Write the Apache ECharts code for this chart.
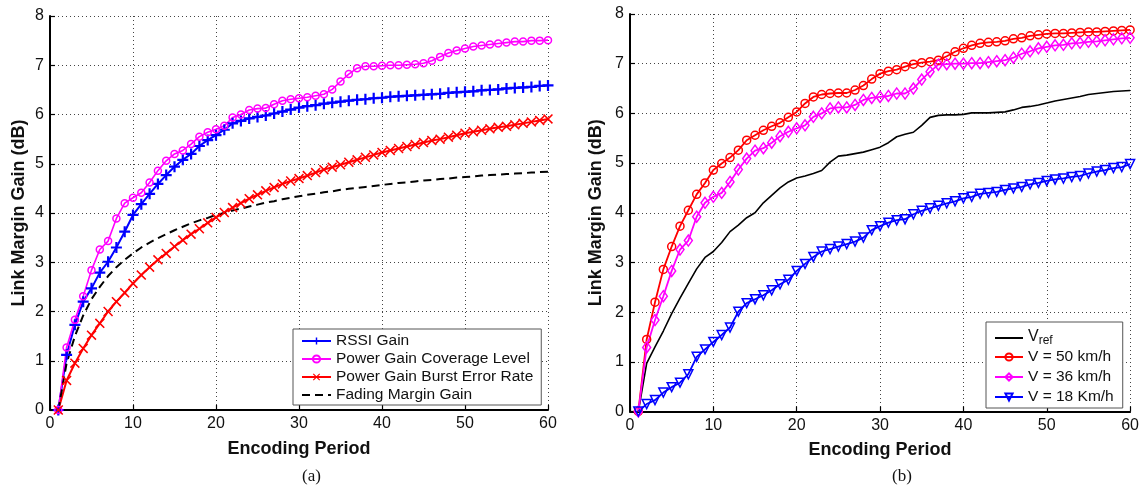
<!DOCTYPE html>
<html><head><meta charset="utf-8">
<script src="https://cdn.jsdelivr.net/npm/echarts@6/dist/echarts.min.js"></script>
<style>html,body{margin:0;padding:0;background:#fff}#c{width:1142px;height:490px}</style>
</head><body><div id="c"></div>
<script>
const periods = [1,2,3,4,5,6,7,8,9,10,11,12,13,14,15,16,17,18,19,20,21,22,23,24,25,26,27,28,29,30,
  31,32,33,34,35,36,37,38,39,40,41,42,43,44,45,46,47,48,49,50,51,52,53,54,55,56,57,58,59,60];
const xTicks = [0,10,20,30,40,50,60];
const yTicks = [0,1,2,3,4,5,6,7,8];

// (a)
const rssiGain = [0,1.12,1.73,2.2,2.47,2.79,3.01,3.3,3.62,3.96,4.18,4.39,4.59,4.77,4.94,5.08,5.2,5.36,5.48,5.58,
  5.69,5.82,5.87,5.92,5.95,5.98,6.02,6.06,6.1,6.14,6.17,6.19,6.22,6.24,6.26,6.28,6.3,6.31,6.33,6.34,
  6.36,6.37,6.38,6.39,6.4,6.41,6.42,6.44,6.45,6.46,6.47,6.49,6.5,6.51,6.53,6.54,6.55,6.56,6.58,6.59];
const coverageGain = [0,1.27,1.83,2.31,2.84,3.26,3.43,3.89,4.2,4.31,4.41,4.62,4.86,5.06,5.2,5.27,5.4,5.55,5.64,5.7,
  5.77,5.94,6.0,6.09,6.12,6.13,6.21,6.28,6.31,6.33,6.35,6.38,6.41,6.51,6.67,6.82,6.94,6.98,6.98,6.99,
  7.0,7.0,7.01,7.02,7.04,7.09,7.17,7.25,7.3,7.34,7.38,7.4,7.42,7.44,7.46,7.48,7.48,7.5,7.5,7.51];
const burstGain = [0,0.6,0.95,1.25,1.52,1.76,2.0,2.2,2.38,2.57,2.74,2.9,3.05,3.18,3.32,3.45,3.57,3.68,3.8,3.91,
  4.01,4.11,4.2,4.29,4.37,4.45,4.52,4.59,4.65,4.7,4.76,4.82,4.88,4.93,4.98,5.03,5.08,5.13,5.18,5.23,
  5.27,5.31,5.35,5.39,5.43,5.47,5.5,5.54,5.58,5.62,5.65,5.68,5.71,5.74,5.76,5.79,5.82,5.85,5.88,5.91];
const fadingGain = [0,0.95,1.5,1.92,2.25,2.5,2.72,2.9,3.05,3.18,3.3,3.4,3.49,3.57,3.65,3.72,3.79,3.85,3.9,3.96,
  4.0,4.05,4.09,4.13,4.17,4.21,4.24,4.28,4.31,4.34,4.37,4.39,4.42,4.44,4.47,4.49,4.51,4.53,4.55,4.57,
  4.59,4.61,4.62,4.64,4.66,4.67,4.69,4.7,4.72,4.73,4.74,4.76,4.77,4.78,4.79,4.8,4.81,4.82,4.83,4.84];

// (b)
const vRef = [0,0.97,1.3,1.62,1.97,2.28,2.58,2.87,3.1,3.22,3.4,3.62,3.75,3.9,4.0,4.2,4.35,4.5,4.62,4.7,
  4.74,4.79,4.85,5.02,5.14,5.16,5.19,5.22,5.27,5.32,5.41,5.53,5.58,5.62,5.76,5.92,5.96,5.97,5.97,5.98,
  6.01,6.01,6.01,6.02,6.03,6.07,6.12,6.14,6.17,6.21,6.25,6.28,6.31,6.34,6.38,6.4,6.42,6.44,6.45,6.46];
const v50 = [0,1.45,2.2,2.86,3.32,3.73,4.05,4.37,4.6,4.86,4.99,5.11,5.26,5.46,5.56,5.66,5.74,5.81,5.92,6.03,
  6.2,6.33,6.38,6.4,6.41,6.41,6.47,6.56,6.69,6.8,6.85,6.88,6.94,6.99,7.02,7.04,7.07,7.15,7.24,7.31,
  7.37,7.41,7.43,7.44,7.46,7.5,7.52,7.56,7.58,7.6,7.61,7.61,7.62,7.63,7.64,7.64,7.65,7.66,7.67,7.68];
const v36 = [0,1.29,1.84,2.32,2.83,3.26,3.44,3.92,4.2,4.32,4.4,4.62,4.87,5.09,5.25,5.3,5.41,5.54,5.63,5.7,
  5.76,5.93,6.0,6.1,6.12,6.12,6.17,6.27,6.31,6.33,6.35,6.4,6.4,6.5,6.68,6.84,6.98,6.99,7.0,7.0,
  7.01,7.01,7.03,7.05,7.07,7.12,7.2,7.25,7.31,7.34,7.37,7.38,7.41,7.42,7.44,7.45,7.47,7.49,7.51,7.52];
const v18 = [0,0.15,0.23,0.38,0.49,0.58,0.75,1.1,1.25,1.4,1.54,1.69,2.01,2.18,2.26,2.34,2.44,2.56,2.65,2.83,
  2.97,3.11,3.22,3.27,3.32,3.37,3.42,3.5,3.65,3.73,3.8,3.85,3.87,3.97,4.04,4.09,4.14,4.19,4.23,4.29,
  4.32,4.38,4.4,4.42,4.46,4.49,4.52,4.57,4.6,4.64,4.67,4.69,4.72,4.74,4.79,4.83,4.86,4.9,4.92,4.98];

const namesA = ['RSSI Gain','Power Gain Coverage Level','Power Gain Burst Error Rate','Fading Margin Gain'];
const namesB = ['Vref','V = 50 km/h','V = 36 km/h','V = 18 Km/h'];
const captions = ['(a)','(b)'];
const xName = 'Encoding Period';
const yName = 'Link Margin Gain (dB)';

const pair = arr => periods.map((p,i)=>[p,arr[i]]);
const FONT = '"Liberation Sans", Arial, Helvetica, sans-serif';
const SERIF = '"Liberation Serif", "Times New Roman", serif';
const PLUS = 'path://M4,0h2v4h4v2h-4v4h-2v-4h-4v-2h4z';
const CROSS = 'path://M0,1.1L1.1,0L5,3.9L8.9,0L10,1.1L6.1,5L10,8.9L8.9,10L5,6.1L1.1,10L0,8.9L3.9,5Z';
const TRI_DOWN = 'path://M0,0L10,0L5,9Z';
const CLEAR = 'rgba(255,255,255,0)';

function xAxis(gi){
  return {gridIndex:gi,type:'value',min:xTicks[0],max:xTicks[xTicks.length-1],interval:10,
    name:xName,nameLocation:'middle',nameGap:30,
    nameTextStyle:{fontFamily:FONT,fontWeight:'bold',fontSize:18,color:'#111'},
    axisLine:{lineStyle:{color:'#000',width:2}},
    axisTick:{inside:true,length:5,lineStyle:{color:'#000',width:1.2}},
    axisLabel:{fontFamily:FONT,fontSize:16,color:'#111',margin:6},
    splitLine:{show:true,lineStyle:{color:'#444',width:1,type:[1,3]}}};
}
function yAxis(gi,gap){
  return {gridIndex:gi,type:'value',min:yTicks[0],max:yTicks[yTicks.length-1],interval:1,
    name:yName,nameLocation:'middle',nameGap:gap,
    nameTextStyle:{fontFamily:FONT,fontWeight:'bold',fontSize:18,color:'#111'},
    axisLine:{lineStyle:{color:'#000',width:2}},
    axisTick:{inside:true,length:5,lineStyle:{color:'#000',width:1.2}},
    axisLabel:{fontFamily:FONT,fontSize:16,color:'#111',margin:6},
    splitLine:{show:true,lineStyle:{color:'#444',width:1,type:[1,3]}}};
}
function mk(name,gi,data,color,symbol,size,opts){
  opts = opts||{};
  return {name:name,type:'line',xAxisIndex:gi,yAxisIndex:gi,data:pair(data),
    symbol:symbol,symbolSize:size,showSymbol:symbol!=='none',animation:false,
    lineStyle:{color:color,width:opts.lw||1.8,type:opts.dash||'solid'},
    itemStyle:opts.hollow?{color:CLEAR,borderColor:color,borderWidth:1.5}:{color:color,borderColor:color,borderWidth:0},
    emphasis:{disabled:true}};
}
const noMarker = n => ({name:n,itemStyle:{opacity:0}});

const option = {
  backgroundColor:'#fff',
  animation:false,
  title:[
    {text:captions[0],left:297,top:463,textStyle:{fontFamily:SERIF,fontWeight:'normal',fontSize:17,color:'#111'}},
    {text:captions[1],left:887,top:463,textStyle:{fontFamily:SERIF,fontWeight:'normal',fontSize:17,color:'#111'}}
  ],
  grid:[
    {left:50,top:16,width:498,height:394},
    {left:630,top:14,width:502,height:397.5}
  ],
  xAxis:[xAxis(0),xAxis(1)],
  yAxis:[yAxis(0,22),yAxis(1,25)],
  legend:[
    {data:[namesA[0],namesA[1],namesA[2],noMarker(namesA[3])],orient:'vertical',left:293,top:329,
     itemWidth:29,itemHeight:9,itemGap:0,
     padding:[3,8,1,8],borderColor:'#555',borderWidth:1,backgroundColor:'#fff',
     textStyle:{fontFamily:FONT,fontSize:15.5,color:'#111',lineHeight:18},selectedMode:false},
    {data:[noMarker(namesB[0]),namesB[1],namesB[2],namesB[3]],orient:'vertical',left:986,top:322,
     itemWidth:28,itemHeight:9,itemGap:0,
     padding:[1,9,1,8],borderColor:'#555',borderWidth:1,backgroundColor:'#fff',
     formatter:n=>n==='Vref'?'{m|V}{s|ref}':n,
     textStyle:{fontFamily:FONT,fontSize:15.5,color:'#111',lineHeight:20,
       rich:{m:{fontFamily:FONT,fontSize:16,color:'#111',lineHeight:18,verticalAlign:'top'},
             s:{fontFamily:FONT,fontSize:12,color:'#111',lineHeight:10,verticalAlign:'bottom',padding:[12,0,0,0]}}},
     selectedMode:false}
  ],
  series:[
    mk(namesA[0],0,rssiGain,'#0000ff',PLUS,11,{lw:2}),
    mk(namesA[1],0,coverageGain,'#ff00ff','circle',7,{hollow:true,lw:1.6}),
    mk(namesA[2],0,burstGain,'#ff0000',CROSS,10,{lw:2}),
    mk(namesA[3],0,fadingGain,'#000000','none',0,{lw:2,dash:[8,5]}),
    mk(namesB[0],1,vRef,'#000000','none',0,{lw:1.6}),
    mk(namesB[1],1,v50,'#ff0000','circle',8,{hollow:true,lw:1.8}),
    mk(namesB[2],1,v36,'#ff00ff','diamond',[8,11],{hollow:true,lw:1.8}),
    mk(namesB[3],1,v18,'#0000ff',TRI_DOWN,9,{hollow:true,lw:1.8})
  ]
};
const chart = echarts.init(document.getElementById('c'),null,{renderer:'canvas'});
chart.setOption(option);
</script>
</body></html>
